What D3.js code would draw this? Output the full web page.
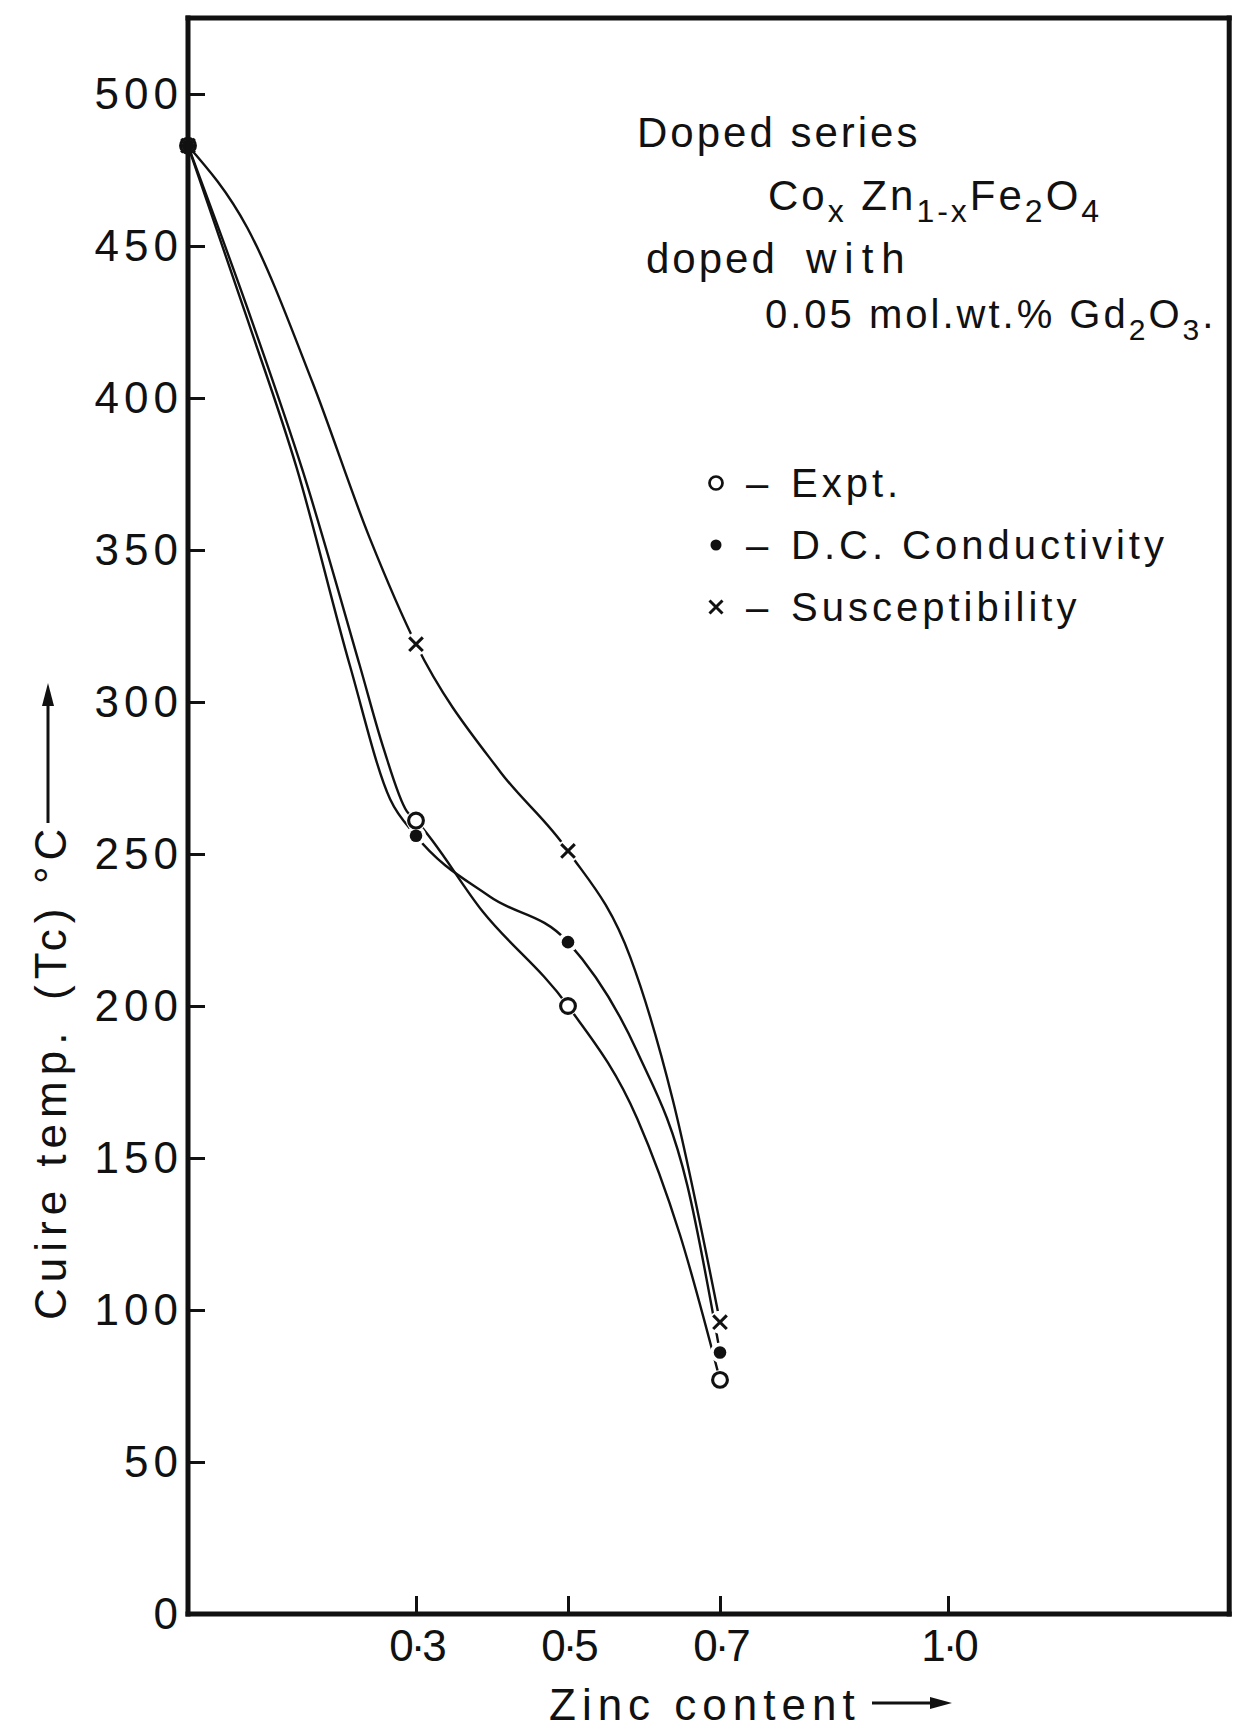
<!DOCTYPE html>
<meta charset="utf-8">
<title>Curie temperature vs zinc content</title>
<style>

body {
  margin: 0;
  background: #fff;
}

svg {
  display: block;
}

text {
  font-family: "Liberation Sans", Arial, sans-serif;
  fill: #111;
}

.axis line {
  stroke: #111;
  stroke-width: 3px;
}

.axis text {
  font-size: 44px;
}

.frame {
  stroke: #111;
  stroke-width: 5px;
  stroke-linecap: square;
}

.curve {
  fill: none;
  stroke: #111;
  stroke-width: 2.4px;
}

.note {
  font-size: 42px;
  letter-spacing: 3px;
}

.legend text {
  font-size: 40px;
  letter-spacing: 4px;
}

.title {
  font-size: 44px;
  letter-spacing: 6px;
}

</style>
<svg width="1233" height="1732"></svg>
<script src="https://cdn.jsdelivr.net/npm/d3@7"></script>
<script>

// measured points (zinc content x, Tc in deg C)
var zinc = [0, 0.3, 0.5, 0.7];
var expt = [483, 261, 200, 77];
var dcCond = [483, 256, 221, 86];
var suscept = [483, 319, 251, 96];

// points
var exptCurve = [[0, 483], [0.086, 424], [0.151, 376], [0.226, 312], [0.257, 285], [0.288, 264],
  [0.3, 261], [0.388, 231], [0.5, 200], [0.591, 163], [0.647, 125], [0.7, 77]];
var dcCurve = [[0, 483], [0.078, 426], [0.143, 377], [0.213, 312], [0.266, 268], [0.3, 256],
  [0.397, 236], [0.5, 221], [0.591, 185], [0.657, 141], [0.7, 86]];
var susceptCurve = [[0, 483], [0.078, 456], [0.164, 405], [0.239, 354], [0.3, 319], [0.411, 277],
  [0.5, 251], [0.582, 216], [0.638, 169], [0.7, 96]];

var yTicks = [0, 50, 100, 150, 200, 250, 300, 350, 400, 450, 500];
var xTicks = [0.3, 0.5, 0.7, 1.0];
var xTickLabels = ["0·3", "0·5", "0·7", "1·0"];
var legendLabels = ["Expt.", "D.C. Conductivity", "Susceptibility"];

var svg = d3.select("svg");

var x = d3.scaleLinear().domain([0, 1]).range([188, 948]),
    y = d3.scaleLinear().domain([0, 500]).range([1614, 94]);

var xEnd = 1.37,
    yTop = 525;

var series = [
  {symbol: "x", values: suscept, curve: susceptCurve},
  {symbol: "o", values: expt, curve: exptCurve},
  {symbol: "dot", values: dcCond, curve: dcCurve}
];

var line = d3.line()
    .x(function(d) { return x(d[0]); })
    .y(function(d) { return y(d[1]); })
    .curve(d3.curveMonotoneX);

svg.append("g").selectAll("path")
    .data(series)
  .enter().append("path")
    .attr("class", "curve")
    .attr("d", function(d) { return line(d.curve); });

// white gaps where the curves meet the markers
series.forEach(function(s) {
  svg.append("g").selectAll("circle")
      .data(zinc.slice(1))
    .enter().append("circle")
      .attr("cx", function(d) { return x(d); })
      .attr("cy", function(d, i) { return y(s.values[i + 1]); })
      .attr("r", s.symbol == "x" ? 11.5 : 10)
      .attr("fill", "#fff");
});

function drawSymbol(g, symbol, size) {
  if (symbol == "o") {
    g.append("circle").attr("r", size).attr("fill", "#fff").attr("stroke", "#111").attr("stroke-width", size * 0.42);
  } else if (symbol == "dot") {
    g.append("circle").attr("r", size * 0.85).attr("fill", "#111");
  } else {
    g.append("path")
        .attr("d", "M" + -size + "," + -size + "L" + size + "," + size + "M" + size + "," + -size + "L" + -size + "," + size)
        .attr("stroke", "#111").attr("stroke-width", size * 0.45).attr("fill", "none");
  }
}

series.forEach(function(s) {
  svg.append("g").selectAll("g")
      .data(zinc)
    .enter().append("g")
      .attr("transform", function(d, i) { return "translate(" + x(d) + "," + y(s.values[i]) + ")"; })
      .each(function() { drawSymbol(d3.select(this), s.symbol, s.symbol == "x" ? 6.8 : 7.4); });
});

// axes, ticks pointing inward
svg.append("g")
    .attr("class", "axis")
    .attr("transform", "translate(" + x(0) + ",0)")
    .call(d3.axisLeft(y).tickValues(yTicks).tickSizeInner(-17).tickSizeOuter(0).tickPadding(5))
    .call(function(g) { g.select(".domain").remove(); })
    .selectAll("text")
    .attr("letter-spacing", "5px");

svg.append("g")
    .attr("class", "axis")
    .attr("transform", "translate(0," + y(0) + ")")
    .call(d3.axisBottom(x).tickValues(xTicks).tickSizeInner(-18).tickSizeOuter(0).tickPadding(16)
      .tickFormat(function(d, i) { return xTickLabels[i]; }))
    .call(function(g) { g.select(".domain").remove(); })
    .selectAll("text")
    .attr("letter-spacing", "-3px");

var frame = svg.append("g").attr("class", "frame");
frame.append("line").attr("x1", x(0)).attr("x2", x(0)).attr("y1", y(yTop)).attr("y2", y(0));
frame.append("line").attr("x1", x(0)).attr("x2", x(xEnd)).attr("y1", y(0)).attr("y2", y(0));
frame.append("line").attr("x1", x(0)).attr("x2", x(xEnd)).attr("y1", y(yTop)).attr("y2", y(yTop));
frame.append("line").attr("x1", x(xEnd)).attr("x2", x(xEnd)).attr("y1", y(yTop)).attr("y2", y(0));

// description block
svg.append("text").attr("class", "note").attr("x", 637).attr("y", 147)
    .attr("letter-spacing", "5.8px").text("Doped series");

var formula = svg.append("text").attr("class", "note").attr("x", 768).attr("y", 210)
    .attr("letter-spacing", "2.5px");
[["Co", 0], ["x", 1], [" Zn", 0], ["1-x", 1], ["Fe", 0], ["2", 1], ["O", 0], ["4", 1]].forEach(function(p, i, arr) {
  var prev = i ? arr[i - 1][1] : 0;
  formula.append("tspan")
      .attr("dy", (p[1] - prev) * 12)
      .attr("font-size", p[1] ? 32 : 42)
      .text(p[0]);
});

var doped = svg.append("text").attr("class", "note").attr("y", 273).attr("letter-spacing", "4px");
doped.append("tspan").attr("x", 646).text("doped");
doped.append("tspan").attr("x", 806).attr("letter-spacing", "8px").text("with");

var dopant = svg.append("text").attr("class", "note").attr("x", 765).attr("y", 328)
    .attr("letter-spacing", "0px");
[["0.05 mol.wt.% Gd", 0], ["2", 1], ["O", 0], ["3", 1], [".", 0]].forEach(function(p, i, arr) {
  var prev = i ? arr[i - 1][1] : 0;
  dopant.append("tspan")
      .attr("dy", (p[1] - prev) * 12)
      .attr("font-size", p[1] ? 30 : 40)
      .text(p[0]);
});

// legend
var legend = svg.append("g").attr("class", "legend")
  .selectAll("g")
    .data(legendLabels)
  .enter().append("g")
    .attr("transform", function(d, i) { return "translate(716," + (483 + i * 62) + ")"; });

legend.each(function(d, i) {
  drawSymbol(d3.select(this), ["o", "dot", "x"][i], 6.5);
});

legend.append("text").attr("x", 30).attr("y", 14).text("–");
legend.append("text").attr("x", 75).attr("y", 14)
    .attr("letter-spacing", function(d, i) { return i == 2 ? "5px" : "4px"; })
    .text(function(d) { return d; });

// axis titles
var ytitle = svg.append("g").attr("transform", "translate(66,0) rotate(-90)");
ytitle.append("text").attr("class", "title").attr("x", -1320).attr("y", 0).text("Cuire temp.");
ytitle.append("text").attr("class", "title").attr("x", -1000).attr("y", 0).attr("letter-spacing", "2px").text("(Tc)");
ytitle.append("text").attr("class", "title").attr("x", -884).attr("y", 0).attr("letter-spacing", "2px").text("°C");

svg.append("line").attr("x1", 48).attr("x2", 48).attr("y1", 823).attr("y2", 700)
    .attr("stroke", "#111").attr("stroke-width", 3);
svg.append("path").attr("d", "M48,683L42,706L54,706Z").attr("fill", "#111");

svg.append("text").attr("class", "title").attr("x", 549).attr("y", 1720)
    .attr("font-size", "42px").text("Zinc content");
svg.append("line").attr("x1", 872).attr("x2", 936).attr("y1", 1703).attr("y2", 1703)
    .attr("stroke", "#111").attr("stroke-width", 3);
svg.append("path").attr("d", "M952,1703L930,1697L930,1709Z").attr("fill", "#111");

</script>
